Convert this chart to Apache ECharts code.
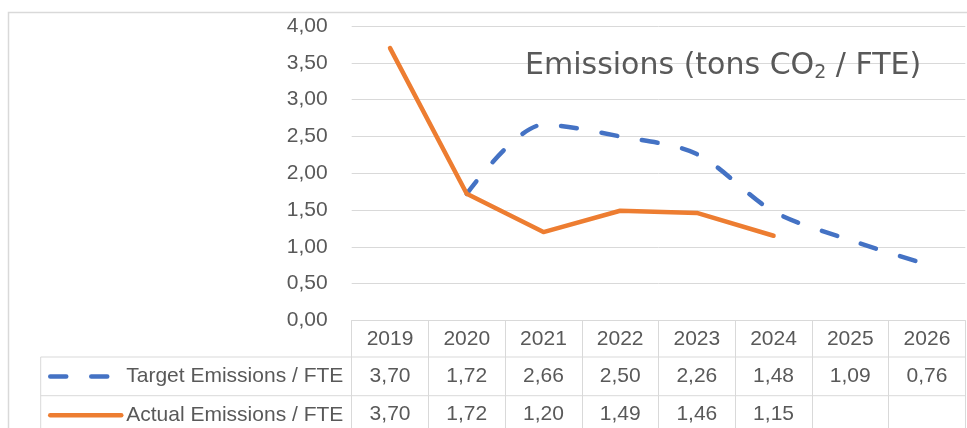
<!DOCTYPE html>
<html>
<head>
<meta charset="utf-8">
<script src="https://cdn.jsdelivr.net/npm/echarts@6/dist/echarts.min.js"></script>
<style>
  html, body { margin: 0; padding: 0; background: #ffffff; }
  #chart { width: 967px; height: 428px; }
</style>
</head>
<body>
<div id="chart"></div>
<script>
  const years = ['2019', '2020', '2021', '2022', '2023', '2024', '2025', '2026'];
  const targetEmissions = [3.70, 1.72, 2.66, 2.50, 2.26, 1.48, 1.09, 0.76];
  const actualEmissions = [3.70, 1.72, 1.20, 1.49, 1.46, 1.15, null, null];
  const yTicks = { min: 0, max: 4, interval: 0.5 };
  // the target line is only drawn from 2020 on (the table still lists 2019)
  const targetLineFrom = 1;

  const FONT = '"Liberation Sans", Arial, sans-serif';
  const TITLE_FONT = '"DejaVu Sans", sans-serif';
  const TEXT = '#595959';
  const LINE = '#d9d9d9';

  function fmt(v) {
    if (v === null || v === undefined) return ' ';
    return v.toFixed(2).replace('.', ',');
  }

  const chart = echarts.init(document.getElementById('chart'));

  const option = {
    animation: false,
    title: {
      text: '{a|Emissions (tons CO}{b|2}{a| / FTE)}',
      left: 520,
      top: 44,
      textStyle: {
        rich: {
          a: { fontFamily: TITLE_FONT, fontSize: 30, fontWeight: 'normal', color: TEXT, lineHeight: 34 },
          b: { fontFamily: TITLE_FONT, fontSize: 19, fontWeight: 'normal', color: TEXT, padding: [15, 0, 0, 0], lineHeight: 34 }
        }
      }
    },
    legend: {
      orient: 'vertical',
      left: 48,
      top: 366,
      padding: 0,
      itemWidth: 71,
      itemHeight: 20,
      itemGap: 17.7,
      data: ['Target Emissions / FTE', 'Actual Emissions / FTE'],
      itemStyle: { color: 'rgba(0,0,0,0)', borderWidth: 0 },
      lineStyle: { width: 4.5, cap: 'round' },
      textStyle: { fontFamily: FONT, fontSize: 21, color: TEXT }
    },
    grid: {
      left: 351.7,
      right: 1.7,
      top: 26,
      height: 294.4
    },
    xAxis: {
      type: 'category',
      data: years,
      boundaryGap: true,
      axisLine: { show: true, lineStyle: { color: LINE, width: 1 } },
      axisTick: { show: true, length: 115, interval: 0, lineStyle: { color: LINE, width: 1 } },
      axisLabel: {
        interval: 0,
        margin: 0,
        formatter: function (value, index) {
          return '{y|' + value + '}\n{v|' + fmt(targetEmissions[index]) + '}\n{v|' + fmt(actualEmissions[index]) + '}';
        },
        rich: {
          y: { fontFamily: FONT, fontSize: 21, color: TEXT, lineHeight: 37.5 },
          v: { fontFamily: FONT, fontSize: 21, color: TEXT, lineHeight: 37.5 }
        }
      }
    },
    yAxis: {
      type: 'value',
      min: yTicks.min,
      max: yTicks.max,
      interval: yTicks.interval,
      axisLine: { show: false },
      axisTick: { show: false },
      axisLabel: {
        margin: 24,
        fontFamily: FONT,
        fontSize: 21,
        color: TEXT,
        formatter: function (v) { return fmt(v); }
      },
      splitLine: { lineStyle: { color: LINE, width: 1 } }
    },
    series: [
      {
        name: 'Target Emissions / FTE',
        type: 'line',
        data: targetEmissions.map(function (v, i) { return i < targetLineFrom ? null : v; }),
        smooth: 0.3,
        showSymbol: false,
        symbol: 'none',
        z: 2,
        lineStyle: { color: '#4472c4', width: 4.5, type: [16, 25], cap: 'round', join: 'round' },
        itemStyle: { color: '#4472c4' }
      },
      {
        name: 'Actual Emissions / FTE',
        type: 'line',
        data: actualEmissions,
        showSymbol: false,
        symbol: 'none',
        z: 3,
        lineStyle: { color: '#ed7d31', width: 4.5, cap: 'round', join: 'round' },
        itemStyle: { color: '#ed7d31' }
      }
    ],
    graphic: [
      // chart border (cut at right and bottom)
      { type: 'rect', silent: true, shape: { x: 8.5, y: 12.5, width: 1200, height: 600 },
        style: { fill: null, stroke: LINE, lineWidth: 1.5 } },
      // data table row lines and left edge of the legend column
      { type: 'line', silent: true, shape: { x1: 40.7, y1: 357, x2: 965.3, y2: 357 }, style: { stroke: LINE, lineWidth: 1 } },
      { type: 'line', silent: true, shape: { x1: 40.7, y1: 395.7, x2: 965.3, y2: 395.7 }, style: { stroke: LINE, lineWidth: 1 } },
      { type: 'line', silent: true, shape: { x1: 40.7, y1: 357, x2: 40.7, y2: 440 }, style: { stroke: LINE, lineWidth: 1 } }
    ]
  };

  chart.setOption(option);
</script>
</body>
</html>
